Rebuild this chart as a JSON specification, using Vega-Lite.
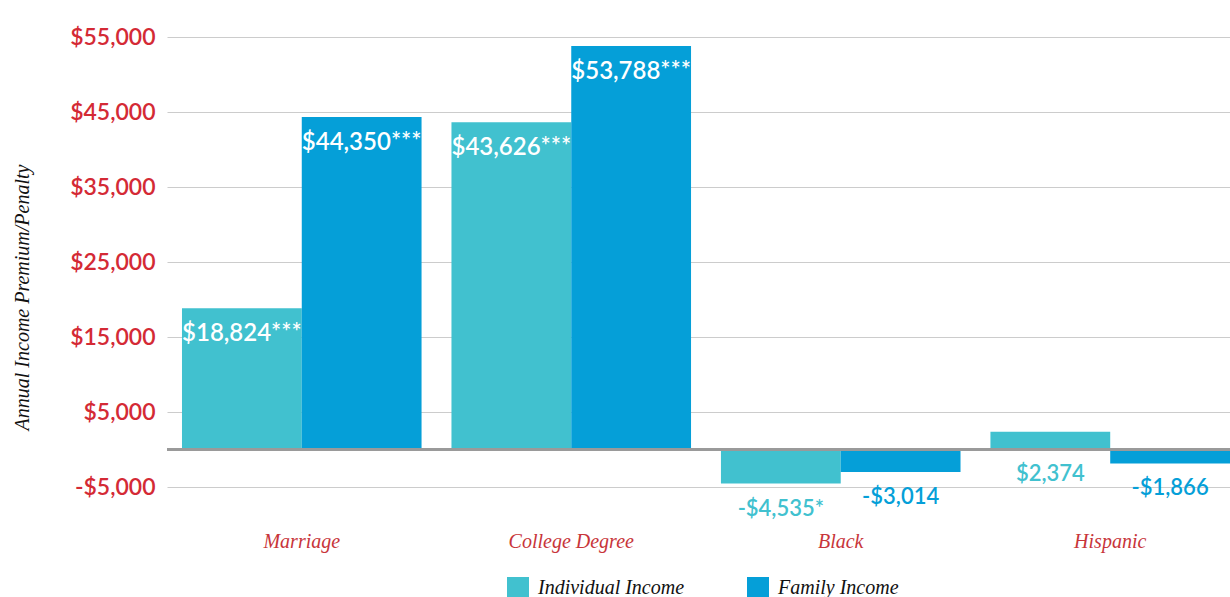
{
  "$schema": "https://vega.github.io/schema/vega-lite/v6.json",
  "width": 1063,
  "height": 450,
  "autosize": {"type": "none"},
  "padding": {"left": 167, "top": 37, "right": 0, "bottom": 110},
  "background": "white",
  "config": {"view": {"stroke": null}},
  "data": {
    "values": [
      {"category": "Marriage", "series": "Individual Income", "value": 18824, "label": "$18,824***"},
      {"category": "Marriage", "series": "Family Income", "value": 44350, "label": "$44,350***"},
      {"category": "College Degree", "series": "Individual Income", "value": 43626, "label": "$43,626***"},
      {"category": "College Degree", "series": "Family Income", "value": 53788, "label": "$53,788***"},
      {"category": "Black", "series": "Individual Income", "value": -4535, "label": "-$4,535*"},
      {"category": "Black", "series": "Family Income", "value": -3014, "label": "-$3,014"},
      {"category": "Hispanic", "series": "Individual Income", "value": 2374, "label": "$2,374"},
      {"category": "Hispanic", "series": "Family Income", "value": -1866, "label": "-$1,866"}
    ]
  },
  "encoding": {
    "x": {
      "field": "category", "type": "nominal",
      "sort": ["Marriage", "College Degree", "Black", "Hispanic"],
      "scale": {"paddingInner": 0.111, "paddingOuter": 0.0278, "align": 1},
      "axis": {
        "title": null, "domain": false, "ticks": false, "grid": false,
        "labelAngle": 0, "labelPadding": 44,
        "labelFont": "Liberation Serif", "labelFontStyle": "italic",
        "labelFontSize": 20, "labelColor": "#c8353a"
      }
    },
    "xOffset": {
      "field": "series", "type": "nominal",
      "sort": ["Individual Income", "Family Income"],
      "scale": {"paddingInner": 0, "paddingOuter": 0}
    }
  },
  "layer": [
    {
      "mark": {"type": "bar"},
      "encoding": {
        "y": {
          "field": "value", "type": "quantitative",
          "scale": {"domain": [-5000, 55000], "nice": false, "zero": false},
          "axis": {
            "values": [-5000, 5000, 15000, 25000, 35000, 45000, 55000],
            "labelExpr": "datum.value < 0 ? '-$' + format(-datum.value, ',') : '$' + format(datum.value, ',')",
            "domain": false, "ticks": false,
            "grid": true, "gridColor": "#cccccc", "gridWidth": 1.2,
            "labelFont": "Lato", "labelFontSize": 23, "labelFontWeight": 600,
            "labelColor": "#d42a35", "labelPadding": 12,
            "title": "Annual Income Premium/Penalty",
            "titleFont": "Liberation Serif", "titleFontStyle": "italic",
            "titleFontWeight": "normal", "titleFontSize": 20, "titleColor": "#111111",
            "titleAngle": -90, "titleX": -145, "titleY": 260,
            "titleAlign": "center", "titleBaseline": "middle"
          }
        },
        "color": {
          "field": "series", "type": "nominal",
          "scale": {"domain": ["Individual Income", "Family Income"], "range": ["#41c1cf", "#059fd8"]},
          "legend": {
            "title": null, "orient": "none", "direction": "horizontal",
            "legendX": 340, "legendY": 540,
            "symbolType": "square", "symbolSize": 484, "symbolStrokeWidth": 0,
            "symbolOpacity": 1,
            "labelFont": "Liberation Serif", "labelFontStyle": "italic",
            "labelFontSize": 20, "labelColor": "#111111", "labelOffset": 9,
            "columnPadding": 62, "labelLimit": 300
          }
        }
      }
    },
    {
      "mark": {"type": "rule", "color": "#9a9a9a", "strokeWidth": 1.8},
      "encoding": {"y": {"datum": 0, "type": "quantitative"}, "x": {"value": 0}, "x2": {"value": 1063}, "xOffset": null}
    },
    {
      "transform": [{"filter": "datum.value > 10000"}],
      "mark": {"type": "text", "color": "white", "font": "Lato", "fontSize": 24, "fontWeight": 600, "baseline": "middle", "align": "center", "dy": 26},
      "encoding": {
        "y": {"field": "value", "type": "quantitative"},
        "text": {"field": "label"}
      }
    },
    {
      "transform": [{"filter": "datum.value < 0"}],
      "mark": {"type": "text", "font": "Lato", "fontSize": 22, "fontWeight": 600, "baseline": "middle", "align": "center", "dy": 25},
      "encoding": {
        "y": {"field": "value", "type": "quantitative"},
        "text": {"field": "label"},
        "color": {"field": "series", "type": "nominal", "legend": null}
      }
    },
    {
      "transform": [{"filter": "datum.value > 0 && datum.value < 10000"}],
      "mark": {"type": "text", "font": "Lato", "fontSize": 22, "fontWeight": 600, "baseline": "middle", "align": "center", "dy": 24},
      "encoding": {
        "y": {"datum": 0, "type": "quantitative"},
        "text": {"field": "label"},
        "color": {"field": "series", "type": "nominal", "legend": null}
      }
    }
  ]
}
